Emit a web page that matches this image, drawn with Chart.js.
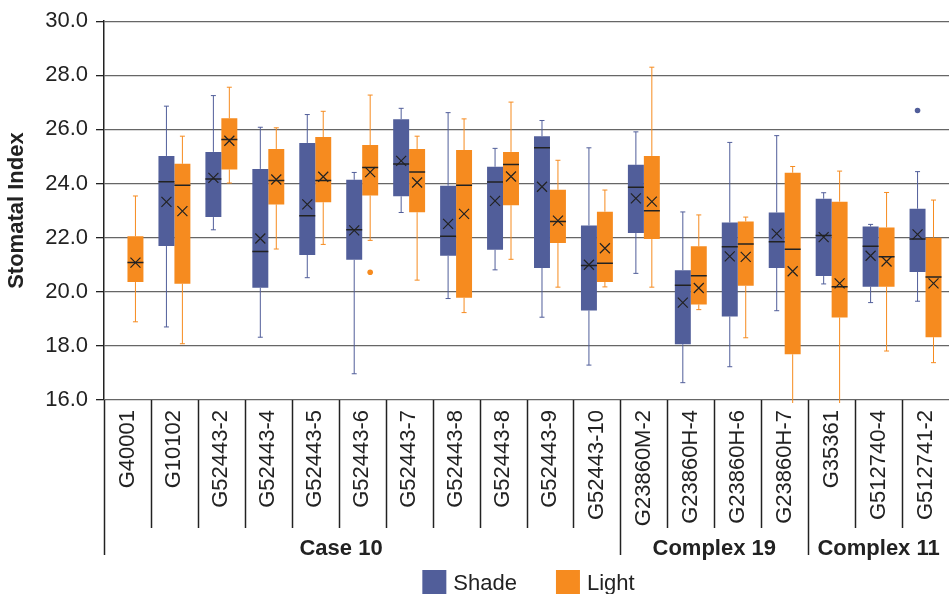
<!DOCTYPE html>
<html>
<head>
<meta charset="utf-8">
<script src="https://cdn.jsdelivr.net/npm/chart.js@4.4.1/dist/chart.umd.min.js"></script>
<style>
  html, body { margin: 0; padding: 0; background: #fff; }
</style>
</head>
<body>
<canvas id="chart" width="949" height="594"></canvas>
<script>
// categories along the x axis
const categories = ["G40001", "G10102", "G52443-2", "G52443-4", "G52443-5", "G52443-6", "G52443-7",
  "G52443-8", "G52443-8", "G52443-9", "G52443-10", "G23860M-2", "G23860H-4", "G23860H-6",
  "G23860H-7", "G35361", "G512740-4", "G512741-2"];

// second level of the axis
const groupNames = ["Case 10", "Complex 19", "Complex 11"];
const groupStarts = [0, 11, 15];
const groupLabelAt = [4.55, 12.5, 16];

const yTicks = [16, 18, 20, 22, 24, 26, 28, 30];

// Shade
const shadeMin    = [null, 18.70, 22.29, 18.32, 20.52, 16.97, 22.93, 19.75, 20.81, 19.06, 17.29, 20.68, 16.64, 17.23, 19.30, 20.29, 19.60, 19.65];
const shadeQ1     = [null, 21.69, 22.76, 20.15, 21.36, 21.18, 23.53, 21.33, 21.55, 20.88, 19.31, 22.17, 18.06, 19.09, 20.88, 20.58, 20.19, 20.73];
const shadeMedian = [null, 24.07, 24.17, 21.49, 22.81, 22.29, 24.72, 22.05, 24.06, 25.32, 20.97, 23.86, 20.24, 21.66, 21.85, 22.08, 21.68, 21.95];
const shadeQ3     = [null, 25.02, 25.17, 24.54, 25.50, 24.14, 26.38, 23.92, 24.62, 25.75, 22.45, 24.69, 20.80, 22.56, 22.93, 23.44, 22.41, 23.07];
const shadeMax    = [null, 26.86, 27.25, 26.08, 26.55, 24.41, 26.78, 26.62, 25.30, 26.33, 25.32, 25.91, 22.95, 25.52, 25.77, 23.66, 22.49, 24.44];
const shadeMean   = [null, 23.32, 24.21, 21.97, 23.23, 22.27, 24.84, 22.51, 23.36, 23.88, 21.00, 23.45, 19.60, 21.31, 22.15, 22.02, 21.33, 22.12];
const shadeOutliers = [[], [], [], [], [], [], [], [], [], [], [], [], [], [], [], [], [], [26.70]];

// Light
const lightMin    = [18.89, 18.08, 24.02, 21.58, 21.75, 21.90, 20.43, 19.23, 21.20, 20.17, 20.18, 20.17, 19.34, 18.30, 15.50, 15.50, 17.81, 17.38];
const lightQ1     = [20.36, 20.30, 24.52, 23.23, 23.31, 23.56, 22.94, 19.78, 23.20, 21.80, 20.36, 21.95, 19.53, 20.22, 17.69, 19.05, 20.19, 18.32];
const lightMedian = [21.08, 23.94, 25.63, 24.11, 24.11, 24.59, 24.43, 23.94, 24.70, 22.60, 21.05, 22.99, 20.59, 21.77, 21.57, 20.19, 21.29, 20.55];
const lightQ3     = [22.05, 24.73, 26.41, 25.28, 25.72, 25.42, 25.28, 25.24, 25.17, 23.77, 22.96, 25.02, 21.68, 22.60, 24.40, 23.33, 22.38, 22.00];
const lightMax    = [23.54, 25.75, 27.56, 26.06, 26.67, 27.27, 25.75, 26.39, 27.01, 24.86, 23.76, 28.30, 22.84, 22.76, 24.63, 24.46, 23.67, 23.39];
const lightMean   = [21.08, 22.98, 25.58, 24.15, 24.25, 24.42, 24.04, 22.88, 24.26, 22.63, 21.61, 23.33, 20.14, 21.29, 20.76, 20.31, 21.12, 20.31];
const lightOutliers = [[], [], [], [], [], [20.72], [], [], [], [], [], [], [], [], [], [], [], []];

const SHADE = "#515e9a";
const LIGHT = "#f68b1f";
const INK = "#222";
const FONT = "'Liberation Sans', Arial, sans-serif";

const series = [
  { label: "Shade", color: SHADE, min: shadeMin, q1: shadeQ1, med: shadeMedian, q3: shadeQ3, max: shadeMax, mean: shadeMean, out: shadeOutliers },
  { label: "Light", color: LIGHT, min: lightMin, q1: lightQ1, med: lightMedian, q3: lightQ3, max: lightMax, mean: lightMean, out: lightOutliers }
];

// whiskers, medians, means and outliers on top of the floating bars
const boxPlotPlugin = {
  id: "boxPlot",
  afterDatasetsDraw(chart) {
    const ctx = chart.ctx;
    const yScale = chart.scales.y;
    const area = chart.chartArea;
    ctx.save();
    ctx.beginPath();
    ctx.rect(area.left, area.top, area.right - area.left, area.bottom - area.top + 3);
    ctx.clip();

    series.forEach((s, di) => {
      const meta = chart.getDatasetMeta(di);
      meta.data.forEach((bar, i) => {
        if (s.min[i] == null) return;
        const x = bar.x;
        const half = bar.width / 2;
        const yMin = yScale.getPixelForValue(s.min[i]);
        const yQ1 = yScale.getPixelForValue(s.q1[i]);
        const yQ3 = yScale.getPixelForValue(s.q3[i]);
        const yMax = yScale.getPixelForValue(s.max[i]);

        ctx.strokeStyle = s.color;
        ctx.lineWidth = 1;
        ctx.beginPath();
        ctx.moveTo(x, yQ1); ctx.lineTo(x, yMin);
        ctx.moveTo(x, yQ3); ctx.lineTo(x, yMax);
        ctx.moveTo(x - 2.5, yMin); ctx.lineTo(x + 2.5, yMin);
        ctx.moveTo(x - 2.5, yMax); ctx.lineTo(x + 2.5, yMax);
        ctx.stroke();

        // median
        const yMed = yScale.getPixelForValue(s.med[i]);
        ctx.strokeStyle = INK;
        ctx.lineWidth = 1.5;
        ctx.beginPath();
        ctx.moveTo(x - half, yMed); ctx.lineTo(x + half, yMed);
        ctx.stroke();

        // mean marker
        const yMean = yScale.getPixelForValue(s.mean[i]);
        ctx.lineWidth = 1.2;
        ctx.beginPath();
        ctx.moveTo(x - 5, yMean - 5); ctx.lineTo(x + 5, yMean + 5);
        ctx.moveTo(x - 5, yMean + 5); ctx.lineTo(x + 5, yMean - 5);
        ctx.stroke();

        ctx.fillStyle = s.color;
        s.out[i].forEach(v => {
          ctx.beginPath();
          ctx.arc(x, yScale.getPixelForValue(v), 2.8, 0, Math.PI * 2);
          ctx.fill();
        });
      });
    });
    ctx.restore();
  },
  afterDraw(chart) {
    const ctx = chart.ctx;
    const xScale = chart.scales.x;
    const area = chart.chartArea;
    const step = xScale.getPixelForValue(1) - xScale.getPixelForValue(0);

    // category and group dividers under the axis
    ctx.save();
    ctx.strokeStyle = INK;
    ctx.lineWidth = 1.5;
    for (let i = 0; i < categories.length; i++) {
      const xb = Math.round(xScale.getPixelForValue(i) - step / 2) + 0.5;
      const long = groupStarts.includes(i);
      ctx.beginPath();
      ctx.moveTo(xb, area.bottom);
      ctx.lineTo(xb, area.bottom + (long ? 155 : 128));
      ctx.stroke();
    }

    ctx.fillStyle = INK;
    ctx.font = "bold 22px " + FONT;
    ctx.textAlign = "center";
    ctx.textBaseline = "alphabetic";
    groupNames.forEach((g, k) => {
      ctx.fillText(g, xScale.getPixelForValue(groupLabelAt[k]), area.bottom + 155);
    });

    // legend
    ctx.font = "22px " + FONT;
    ctx.textAlign = "left";
    const box = 24, gap = 7, spacing = 39;
    const widths = series.map(s => ctx.measureText(s.label).width);
    const total = widths.reduce((a, w) => a + box + gap + w, 0) + spacing;
    let lx = (area.left + area.right) / 2 - total / 2 + 2;
    series.forEach((s, k) => {
      ctx.fillStyle = s.color;
      ctx.fillRect(lx, 570, box, box);
      ctx.fillStyle = INK;
      ctx.fillText(s.label, lx + box + gap, 590);
      lx += box + gap + widths[k] + spacing;
    });
    ctx.restore();
  }
};

function buildDatasets() {
  return series.map(s => ({
    label: s.label,
    data: s.q1.map((v, i) => v == null ? null : [v, s.q3[i]]),
    backgroundColor: s.color,
    borderWidth: 0,
    categoryPercentage: 0.68,
    barPercentage: 1.0
  }));
}

new Chart(document.getElementById("chart"), {
  type: "bar",
  data: { labels: categories, datasets: buildDatasets() },
  options: {
    responsive: false,
    animation: false,
    devicePixelRatio: 1,
    layout: { padding: { top: 19, right: 0, bottom: 0, left: 0 } },
    plugins: { legend: { display: false }, tooltip: { enabled: false } },
    scales: {
      x: {
        grid: { display: false, drawTicks: false },
        border: { display: false },
        ticks: {
          autoSkip: false, minRotation: 90, maxRotation: 90, padding: 10,
          color: INK, font: { family: FONT, size: 22 }
        },
        afterFit(scale) {
          scale.height = 194;
          scale.paddingLeft = 0;
          scale.paddingRight = 0;
        }
      },
      y: {
        min: yTicks[0],
        max: yTicks[yTicks.length - 1],
        grid: { color: "#666", lineWidth: 1.3, tickLength: 8, tickColor: INK },
        border: { color: INK, width: 1.5 },
        ticks: {
          stepSize: yTicks[1] - yTicks[0], padding: 8, color: INK,
          font: { family: FONT, size: 22 },
          callback: v => v.toFixed(1)
        },
        title: {
          display: true, text: "Stomatal Index", color: INK,
          font: { family: FONT, size: 22, weight: "bold" }, padding: { top: 4, bottom: 0 }
        },
        afterFit(scale) { scale.width = 104; }
      }
    }
  },
  plugins: [boxPlotPlugin]
});
</script>
</body>
</html>
